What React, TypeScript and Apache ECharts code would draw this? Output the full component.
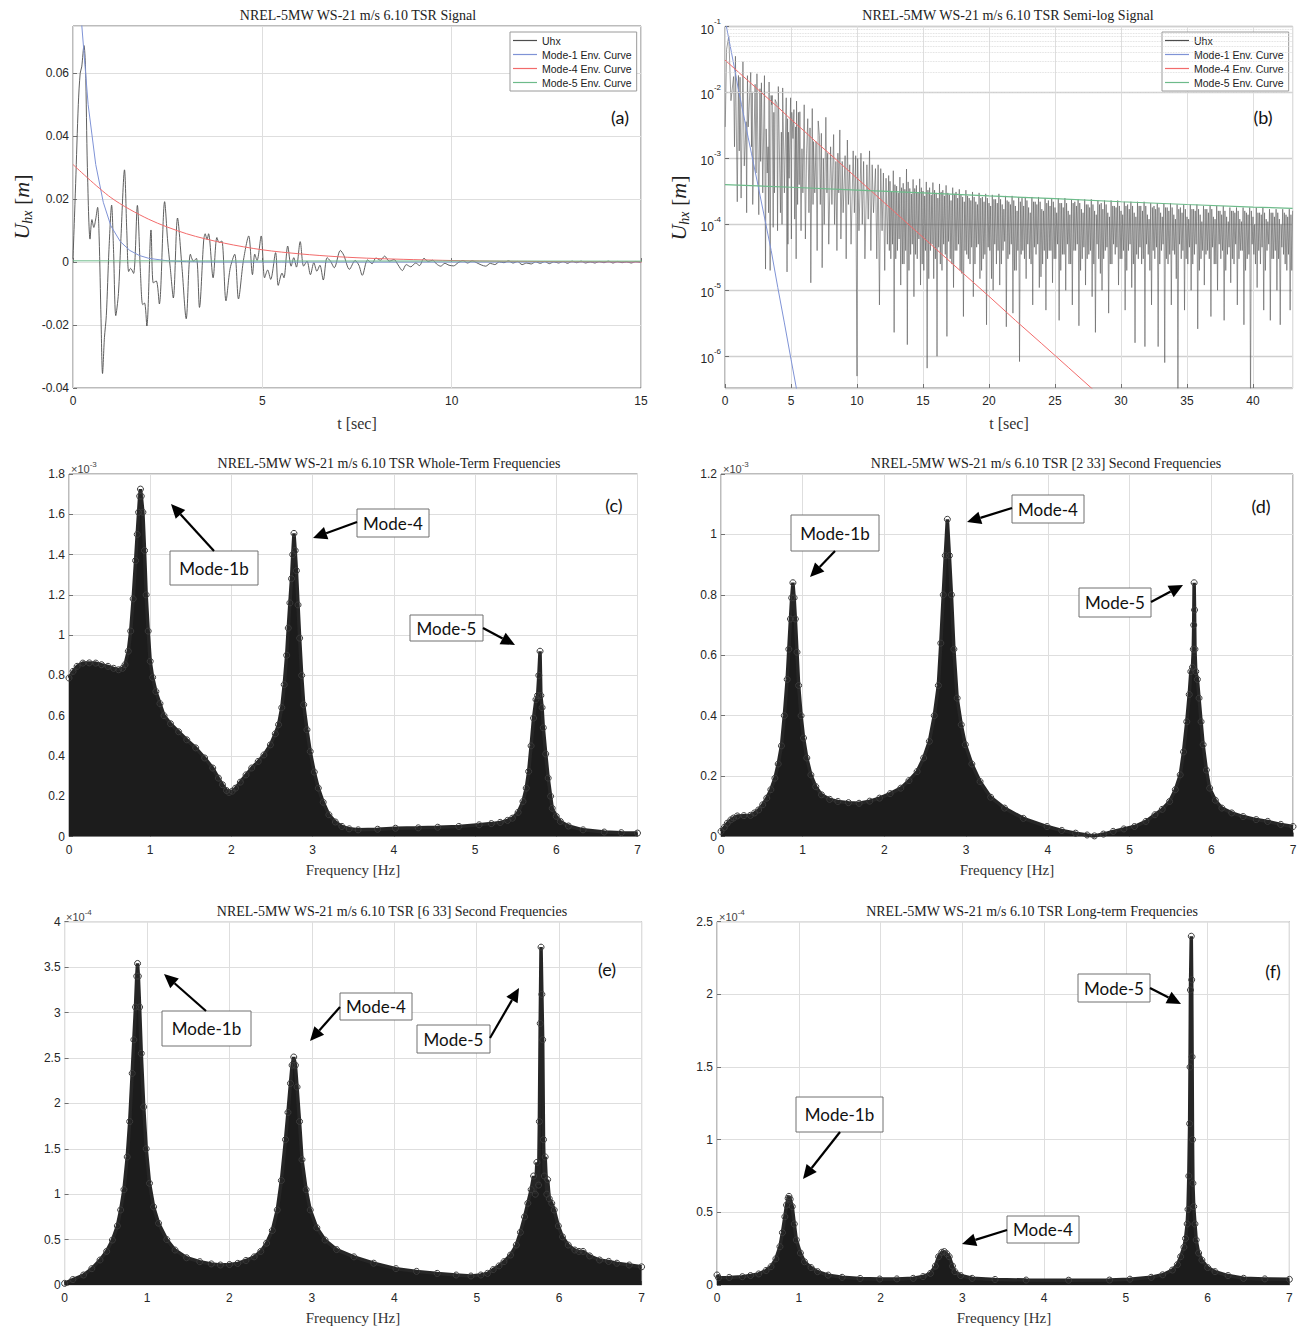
import React, { useEffect, useRef } from "react";
import * as echarts from "echarts";

// ---------------- DATA ----------------
// (a) Uhx time signal [t (s), Uhx (m)]
const uhxSignal: number[][] = [
  [0, 0.001], [0.07, 0.025], [0.14, 0.05], [0.19, 0.06], [0.23, 0.062], [0.29, 0.0688], [0.33, 0.062], [0.38, 0.03],
  [0.45, 0.0073], [0.5, 0.0135], [0.55, 0.011], [0.6, 0.0137], [0.65, 0.0174], [0.69, 0.008], [0.74, -0.018], [0.78, -0.0354],
  [0.83, -0.024], [0.88, -0.017], [0.95, 0.004], [1.02, 0.0181], [1.07, 0.004], [1.13, -0.017], [1.2, -0.01], [1.26, 0.006],
  [1.36, 0.0293], [1.42, 0.01], [1.47, -0.003], [1.52, -0.002], [1.6, -0.0036], [1.7, 0.018], [1.78, -0.003], [1.84, -0.0135],
  [1.89, -0.013], [1.95, -0.0203], [2.06, 0.0102], [2.12, -0.0066], [2.2, -0.006], [2.28, -0.0133], [2.42, 0.0192], [2.5, 0.0067],
  [2.57, -0.002], [2.65, -0.0114], [2.76, 0.014], [2.88, -0.002], [2.99, -0.018], [3.1, 0.0025], [3.18, 0.0003], [3.26, 0.0012],
  [3.34, -0.0144], [3.45, 0.0067], [3.49, 0.009], [3.54, 0.0072], [3.58, 0.009], [3.7, -0.005], [3.8, 0.0078], [3.86, 0.0062],
  [3.93, 0.0067], [4.04, -0.0123], [4.15, -0.002], [4.27, 0.0025], [4.37, -0.0117], [4.5, 0.0005], [4.64, 0.0083], [4.74, -0.004],
  [4.8, 0.0025], [4.86, 0.0005], [4.97, 0.0083], [5.06, -0.005], [5.14, -0.0025], [5.22, -0.0055], [5.35, 0.003], [5.42, -0.0074],
  [5.52, -0.0035], [5.57, -0.005], [5.67, 0.0051], [5.76, -0.0013], [5.83, 0.0014], [5.9, -0.0016], [6.0, 0.0065], [6.09, -0.0013],
  [6.18, 0.0003], [6.27, -0.004], [6.36, -0.0002], [6.44, -0.0029], [6.52, -0.001], [6.61, -0.0057], [6.71, 0.0014], [6.8, 0.0003],
  [6.9, -0.0018], [7.06, 0.0037], [7.15, 0.0022], [7.3, -0.0023], [7.45, 0.0005], [7.55, -0.001], [7.64, -0.0042], [7.78, 0.0007],
  [7.9, -0.0005], [8.0, 0.0013], [8.12, 0.0006], [8.23, 0.0019], [8.35, 0.0003], [8.48, 0.0008], [8.58, -0.0008], [8.7, -0.0027],
  [8.8, -0.0008], [8.92, -0.0015], [9.05, -0.0003], [9.15, -0.0011], [9.27, 0.0012], [9.38, 0.0002], [9.5, 0.0006], [9.6, -0.0006],
  [9.71, -0.0013], [9.82, -0.0004], [9.93, -0.001], [10.05, -0.0012], [10.17, -0.0002], [10.3, 0.0005], [10.42, -0.0003], [10.54, 0.0004],
  [10.66, -0.0002], [10.78, -0.0009], [10.9, -0.0013], [11.02, -0.0004], [11.14, -0.0008], [11.26, 0.0001], [11.38, -0.0002], [11.5, 0.0004],
  [11.62, -0.0003], [11.74, 0.0002], [11.86, -0.0008], [11.98, -0.0003], [12.1, -0.0006], [12.22, 0.0001], [12.34, -0.0004], [12.46, 0.0002],
  [12.58, -0.0005], [12.7, 0.0001], [12.82, -0.0003], [12.94, 0.0002], [13.06, -0.0004], [13.18, 0.0003], [13.3, -0.0002], [13.42, 0.0003],
  [13.54, -0.0003], [13.66, 0.0001], [13.78, -0.0003], [13.9, 0.0002], [14.02, -0.0002], [14.14, 0.0003], [14.26, -0.0003], [14.38, 0.0002],
  [14.5, -0.0002], [14.62, 0.0001], [14.74, -0.0003], [14.86, 0.0002], [15.0, -0.0001],
];

// (b) |Uhx| on semi-log axes, first 12.5 s [t, |Uhx|]
const uhxAbsEarly: number[][] = [
  [0.02, 3e-3], [0.12, 0.045], [0.29, 0.072], [0.45, 0.0075], [0.65, 0.0174], [0.72, 1.5e-3], [0.79, 0.0354], [0.93, 2.2e-4],
  [1.02, 0.0181], [1.08, 1.3e-3], [1.14, 0.017], [1.22, 2.5e-4], [1.36, 0.0293], [1.46, 7.7e-4], [1.6, 0.0036], [1.64, 1.5e-4],
  [1.7, 0.018], [1.76, 3e-3], [1.95, 0.0203], [2.01, 1.5e-3], [2.06, 0.0102], [2.1, 2e-4], [2.28, 0.0133], [2.35, 6e-4],
  [2.42, 0.0192], [2.56, 1.4e-4], [2.65, 0.0114], [2.7, 9e-4], [2.76, 0.014], [2.86, 3e-4], [2.99, 0.018], [3.07, 2.1e-5],
  [3.12, 0.0028], [3.2, 6e-4], [3.26, 0.0015], [3.3, 1.5e-4], [3.34, 0.0144], [3.42, 2e-5], [3.49, 0.009], [3.54, 0.0065],
  [3.58, 0.009], [3.65, 9e-5], [3.7, 0.005], [3.75, 3e-4], [3.8, 0.0078], [3.93, 0.0067], [3.98, 8e-5], [4.04, 0.0123],
  [4.2, 1.5e-4], [4.27, 0.0025], [4.32, 1e-4], [4.37, 0.0117], [4.5, 3e-4], [4.64, 0.0083], [4.7, 1.9e-5], [4.74, 0.004],
  [4.77, 5e-5], [4.8, 0.0025], [4.86, 5e-4], [4.97, 0.0083], [5.03, 6e-5], [5.06, 0.005], [5.15, 0.002], [5.22, 0.0055],
  [5.28, 1.2e-4], [5.35, 0.003], [5.39, 3e-5], [5.42, 0.0074], [5.5, 2e-4], [5.56, 0.005], [5.62, 4e-4], [5.67, 0.0051],
  [5.76, 8e-5], [5.83, 0.0014], [5.9, 3e-4], [6.0, 0.0065], [6.09, 6e-5], [6.18, 0.0012], [6.27, 0.004], [6.36, 1.5e-4],
  [6.44, 0.0029], [6.5, 1.3e-5], [6.61, 0.0057], [6.67, 2e-4], [6.71, 0.0018], [6.8, 3e-4], [6.9, 0.0018], [6.98, 4e-5],
  [7.06, 0.0037], [7.15, 0.0022], [7.22, 2e-4], [7.3, 0.0024], [7.36, 2.2e-5], [7.45, 0.001], [7.52, 1e-4], [7.64, 0.0042],
  [7.72, 3e-4], [7.78, 0.0012], [7.86, 5e-5], [8.0, 0.0015], [8.1, 2e-4], [8.23, 0.0023], [8.3, 1e-4], [8.4, 0.0009],
  [8.48, 4e-5], [8.55, 0.0012], [8.62, 3e-4], [8.7, 0.0027], [8.78, 6e-5], [8.88, 0.0009], [8.95, 1.5e-4], [9.1, 0.0011],
  [9.18, 3e-5], [9.27, 0.0019], [9.35, 2e-4], [9.45, 0.0008], [9.55, 5e-5], [9.71, 0.0013], [9.8, 1.5e-4], [9.9, 0.0011],
  [10.0, 5e-7], [10.05, 0.001], [10.15, 8e-5], [10.3, 0.0012], [10.4, 1e-4], [10.5, 0.0009], [10.6, 3e-5], [10.75, 0.0008],
  [10.85, 1.2e-4], [10.95, 0.0013], [11.05, 4e-5], [11.15, 0.0008], [11.25, 1.5e-4], [11.4, 0.0007], [11.5, 3e-5], [11.6, 0.0008],
  [11.7, 6e-6], [11.8, 0.0007], [11.9, 8e-5], [12.0, 0.0006], [12.1, 2e-5], [12.2, 0.0005], [12.3, 5e-5], [12.4, 0.00055],
  [12.45, 4e-5],
];

// (b) dense oscillation band after 12.5 s: two cycles (A then B) per step
const uhxBandStart = 12.5;
const uhxBandStep = 0.25;
const uhxBandTopsA: number[] = [
  4.5e-4, 6.5e-4, 3.8e-4, 5.2e-4, 4.2e-4, 6.9e-4, 3.5e-4, 4.8e-4, 3.9e-4, 4.9e-4, 3.2e-4, 4.4e-4,
  3.6e-4, 4.3e-4, 3.0e-4, 4.1e-4, 3.3e-4, 3.9e-4, 2.8e-4, 3.6e-4, 3.1e-4, 3.4e-4, 2.6e-4, 3.3e-4,
  2.5e-4, 3.1e-4, 2.2e-4, 3.0e-4, 2.6e-4, 2.9e-4, 2.1e-4, 2.8e-4, 2.4e-4, 2.9e-4, 2.0e-4, 2.7e-4,
  2.2e-4, 2.7e-4, 1.9e-4, 2.6e-4, 2.5e-4, 2.6e-4, 1.8e-4, 2.6e-4, 2.2e-4, 2.6e-4, 1.7e-4, 2.5e-4,
  2.3e-4, 2.5e-4, 1.8e-4, 2.5e-4, 2.1e-4, 2.5e-4, 1.6e-4, 2.4e-4, 2.2e-4, 2.4e-4, 1.7e-4, 2.4e-4,
  2.0e-4, 2.4e-4, 1.6e-4, 2.3e-4, 2.1e-4, 2.3e-4, 1.5e-4, 2.3e-4, 1.9e-4, 2.3e-4, 1.6e-4, 2.2e-4,
  2.0e-4, 2.2e-4, 1.5e-4, 2.2e-4, 1.9e-4, 2.2e-4, 1.4e-4, 2.1e-4, 1.9e-4, 2.1e-4, 1.5e-4, 2.1e-4,
  1.8e-4, 2.1e-4, 1.4e-4, 2.0e-4, 1.8e-4, 2.0e-4, 1.3e-4, 2.0e-4, 1.7e-4, 2.0e-4, 1.4e-4, 1.9e-4,
  1.7e-4, 1.9e-4, 1.3e-4, 1.9e-4, 1.6e-4, 1.9e-4, 1.3e-4, 1.8e-4, 1.6e-4, 1.8e-4, 1.2e-4, 1.8e-4,
  1.5e-4, 1.8e-4, 1.3e-4, 1.8e-4, 1.5e-4, 1.8e-4, 1.2e-4, 1.7e-4, 1.5e-4, 1.7e-4, 1.2e-4, 1.7e-4,
  1.4e-4, 1.7e-4, 1.6e-4,
];
const uhxBandDipsA: number[] = [
  3e-5, 2.3e-6, 4e-5, 1.2e-5, 2.5e-5, 1.5e-6, 3.5e-5, 8e-6, 3e-5, 1.2e-5, 2e-5, 6.6e-7,
  4e-5, 1.5e-5, 1e-6, 2.5e-5, 5e-5, 2e-6, 3e-5, 1.1e-5, 4e-5, 2e-5, 4e-6, 3.5e-5,
  2.5e-5, 8e-6, 4.5e-5, 1.5e-5, 3e-5, 3e-6, 4e-5, 1e-5, 2.5e-5, 1.2e-5, 4e-5, 2.8e-6,
  3.5e-5, 4.5e-6, 2e-5, 8.3e-7, 4e-5, 1.5e-5, 3e-5, 6e-6, 3.5e-5, 1.1e-5, 2.5e-5, 5e-6,
  4e-5, 1.3e-5, 3e-5, 3.5e-6, 3.5e-5, 1e-5, 2.5e-5, 6e-6, 4e-5, 2.9e-6, 3e-5, 1.2e-5,
  3.5e-5, 8e-6, 2.3e-6, 3e-5, 1e-5, 4e-5, 4.5e-6, 2.5e-5, 3.5e-5, 1.2e-5, 3e-5, 5e-6,
  4e-5, 1.1e-5, 1.6e-6, 3e-5, 2.5e-5, 1.4e-6, 3.5e-5, 6e-6, 3e-5, 1.4e-6, 4e-5, 8e-7,
  2.5e-5, 6e-6, 3.5e-5, 2e-7, 3e-5, 5e-6, 2.5e-5, 1e-5, 3.5e-5, 2.6e-6, 3e-5, 1.2e-5,
  4e-5, 4e-6, 2.5e-5, 1e-5, 3e-5, 3.5e-6, 3.5e-5, 1.3e-5, 2.5e-5, 6e-6, 4e-5, 3e-6,
  3e-5, 2e-7, 3.5e-5, 1.1e-5, 2.5e-5, 5e-6, 4e-5, 3.5e-6, 3e-5, 1e-5, 3e-6, 3.5e-5,
  2e-5, 5e-6,
];
const uhxBandTopsB: number[] = [
  3.2e-4, 4.0e-4, 3.0e-4, 3.6e-4, 3.4e-4, 4.4e-4, 2.9e-4, 3.5e-4, 3.0e-4, 3.6e-4, 2.7e-4, 3.3e-4,
  2.8e-4, 3.3e-4, 2.5e-4, 3.1e-4, 2.7e-4, 3.0e-4, 2.3e-4, 2.9e-4, 2.5e-4, 2.8e-4, 2.2e-4, 2.7e-4,
  2.3e-4, 2.6e-4, 2.0e-4, 2.5e-4, 2.2e-4, 2.5e-4, 1.9e-4, 2.4e-4, 2.1e-4, 2.4e-4, 1.7e-4, 2.3e-4,
  2.0e-4, 2.3e-4, 1.6e-4, 2.2e-4, 1.9e-4, 2.3e-4, 1.5e-4, 2.2e-4, 2.0e-4, 2.2e-4, 1.6e-4, 2.1e-4,
  1.9e-4, 2.2e-4, 1.5e-4, 2.1e-4, 1.8e-4, 2.1e-4, 1.4e-4, 2.1e-4, 1.9e-4, 2.1e-4, 1.5e-4, 2.0e-4,
  1.8e-4, 2.0e-4, 1.4e-4, 2.0e-4, 1.7e-4, 2.0e-4, 1.3e-4, 1.9e-4, 1.8e-4, 1.9e-4, 1.4e-4, 1.9e-4,
  1.7e-4, 1.9e-4, 1.3e-4, 1.9e-4, 1.6e-4, 1.9e-4, 1.2e-4, 1.8e-4, 1.7e-4, 1.8e-4, 1.3e-4, 1.8e-4,
  1.6e-4, 1.8e-4, 1.2e-4, 1.7e-4, 1.5e-4, 1.7e-4, 1.2e-4, 1.7e-4, 1.6e-4, 1.7e-4, 1.1e-4, 1.7e-4,
  1.5e-4, 1.7e-4, 1.2e-4, 1.6e-4, 1.4e-4, 1.6e-4, 1.1e-4, 1.6e-4, 1.5e-4, 1.6e-4, 1.1e-4, 1.6e-4,
  1.4e-4, 1.6e-4, 1.0e-4, 1.5e-4, 1.4e-4, 1.5e-4, 1.1e-4, 1.5e-4, 1.3e-4, 1.5e-4, 1.0e-4, 1.5e-4,
  1.3e-4, 1.4e-4,
];
const uhxBandDipsB: number[] = [
  5e-5, 3e-5, 6e-5, 2.5e-5, 4e-5, 2e-5, 5e-5, 3.5e-5, 6e-5, 2.5e-5, 4e-5, 1.5e-5,
  5e-5, 3e-5, 4.5e-5, 2e-5, 3.5e-5, 5.5e-5, 2.5e-5, 4e-5, 5e-5, 1.8e-5, 4e-5, 3e-5,
  4.5e-5, 2.5e-5, 5e-5, 2e-5, 3.5e-5, 4.5e-5, 1.5e-5, 5e-5, 4e-5, 2.5e-5, 5.5e-5, 3e-5,
  5e-5, 2e-5, 4e-5, 3.5e-5, 3e-5, 5e-5, 2.5e-5, 4.5e-5, 5e-5, 1.6e-5, 4e-5, 3e-5,
  4e-5, 3e-5, 5e-5, 2e-5, 3.5e-5, 5e-5, 2.5e-5, 4e-5, 5e-5, 2e-5, 4.5e-5, 3e-5,
  4e-5, 2.5e-5, 5e-5, 1.8e-5, 3e-5, 4.5e-5, 2.5e-5, 5e-5, 4.5e-5, 3e-5, 4e-5, 2e-5,
  5e-5, 2.5e-5, 3.5e-5, 4.5e-5, 3e-5, 5e-5, 2e-5, 4e-5, 4.5e-5, 2.5e-5, 5e-5, 3e-5,
  3.5e-5, 4e-5, 1.5e-5, 5e-5, 4e-5, 3e-5, 4.5e-5, 2.5e-5, 5e-5, 2e-5, 4e-5, 3.5e-5,
  3e-5, 4.5e-5, 2.5e-5, 5e-5, 4e-5, 2e-5, 4.5e-5, 3e-5, 5e-5, 3e-5, 4e-5, 2e-5,
  3.5e-5, 5e-5, 2.5e-5, 4e-5, 4.5e-5, 2e-5, 5e-5, 3e-5, 4e-5, 3e-5, 4.5e-5, 2.5e-5,
  3.5e-5, 2e-5,
];

const mode1Env: number[][] = [
  [0, 0.13], [0.2, 0.08], [0.4, 0.05], [0.6, 0.031], [0.8, 0.019], [1.0, 0.0115], [1.25, 0.0065], [1.5, 0.0037],
  [1.75, 0.0021], [2.0, 0.0012], [2.5, 3.9e-4], [3.0, 1.25e-4], [3.5, 4e-5], [4.0, 1.1e-5], [4.5, 3.2e-6], [5.0, 9e-7],
  [5.5, 2.6e-7], [6.0, 7e-8],
];
const mode1EnvTail: number[][] = [[15, 0]];
const mode4Env: number[][] = [
  [0, 0.031], [1, 0.0205], [2, 0.0136], [3, 0.009], [4, 0.006], [5, 0.0039], [6, 0.0026], [7, 0.0017], [8, 0.00114],
  [10, 5.0e-4], [12, 2.19e-4], [14, 9.6e-5], [16, 4.2e-5], [18, 1.84e-5], [20, 8.1e-6], [22, 3.5e-6], [24, 1.55e-6],
  [26, 6.8e-7], [28, 2.98e-7],
];
const mode5Env: number[][] = [
  [0, 4.0e-4], [5, 3.65e-4], [10, 3.3e-4], [15, 3.0e-4], [20, 2.7e-4], [25, 2.45e-4], [30, 2.2e-4], [35, 2.0e-4],
  [40, 1.83e-4], [43, 1.75e-4],
];

// (c) Whole-term spectrum [Hz, amplitude x1e-3]
const specWhole: number[][] = [
  [0, 0.787], [0.05, 0.82], [0.1, 0.845], [0.17, 0.861], [0.25, 0.862], [0.33, 0.861], [0.4, 0.853], [0.48, 0.845],
  [0.55, 0.835], [0.61, 0.828], [0.66, 0.835], [0.69, 0.853], [0.73, 0.92], [0.76, 1.02], [0.79, 1.18], [0.82, 1.37],
  [0.84, 1.5], [0.857, 1.61], [0.87, 1.69], [0.88, 1.725], [0.89, 1.69], [0.91, 1.61], [0.93, 1.42], [0.95, 1.2],
  [0.975, 1.02], [1.0, 0.87], [1.03, 0.79], [1.07, 0.72], [1.12, 0.66], [1.17, 0.6], [1.25, 0.56], [1.35, 0.52],
  [1.45, 0.48], [1.56, 0.44], [1.67, 0.39], [1.77, 0.34], [1.84, 0.29], [1.89, 0.257], [1.94, 0.228], [1.97, 0.219],
  [2.01, 0.225], [2.05, 0.24], [2.11, 0.27], [2.18, 0.306], [2.25, 0.34], [2.33, 0.373], [2.4, 0.405], [2.48, 0.455],
  [2.54, 0.51], [2.58, 0.555], [2.62, 0.64], [2.65, 0.754], [2.68, 0.9], [2.7, 1.035], [2.72, 1.16], [2.74, 1.28],
  [2.755, 1.4], [2.77, 1.505], [2.785, 1.42], [2.8, 1.32], [2.82, 1.15], [2.84, 0.985], [2.865, 0.8], [2.89, 0.654],
  [2.93, 0.53], [2.97, 0.422], [3.02, 0.32], [3.07, 0.24], [3.13, 0.17], [3.2, 0.108], [3.28, 0.072], [3.36, 0.05],
  [3.45, 0.038], [3.56, 0.033], [3.8, 0.036], [4.02, 0.041], [4.3, 0.043], [4.54, 0.046], [4.8, 0.05], [5.05, 0.058],
  [5.2, 0.064], [5.31, 0.07], [5.4, 0.08], [5.46, 0.091], [5.53, 0.12], [5.59, 0.174], [5.63, 0.24], [5.66, 0.323],
  [5.69, 0.45], [5.72, 0.588], [5.75, 0.68], [5.77, 0.7], [5.785, 0.8], [5.8, 0.92], [5.81, 0.7], [5.825, 0.64],
  [5.84, 0.54], [5.87, 0.41], [5.9, 0.29], [5.93, 0.2], [5.95, 0.14], [6.0, 0.1], [6.05, 0.075], [6.15, 0.052],
  [6.33, 0.033], [6.59, 0.022], [6.8, 0.019], [7.0, 0.017],
];

// (d) [2 33] s spectrum [Hz, amplitude x1e-3]
const spec2to33: number[][] = [
  [0, 0.017], [0.04, 0.03], [0.077, 0.044], [0.12, 0.055], [0.153, 0.061], [0.2, 0.068], [0.28, 0.069], [0.36, 0.07],
  [0.41, 0.078], [0.46, 0.088], [0.51, 0.105], [0.56, 0.127], [0.61, 0.155], [0.66, 0.193], [0.7, 0.24], [0.74, 0.3],
  [0.775, 0.4], [0.81, 0.52], [0.83, 0.62], [0.85, 0.72], [0.865, 0.79], [0.88, 0.84], [0.895, 0.79], [0.91, 0.72],
  [0.93, 0.61], [0.95, 0.5], [0.98, 0.4], [1.01, 0.326], [1.05, 0.26], [1.1, 0.204], [1.16, 0.165], [1.23, 0.138],
  [1.33, 0.123], [1.43, 0.116], [1.56, 0.112], [1.69, 0.11], [1.82, 0.117], [1.94, 0.127], [2.07, 0.142], [2.2, 0.16],
  [2.3, 0.185], [2.4, 0.215], [2.48, 0.26], [2.55, 0.315], [2.61, 0.4], [2.66, 0.5], [2.69, 0.64], [2.72, 0.8],
  [2.745, 0.93], [2.77, 1.05], [2.795, 0.93], [2.82, 0.8], [2.85, 0.62], [2.89, 0.458], [2.94, 0.37], [2.99, 0.304],
  [3.07, 0.24], [3.17, 0.182], [3.3, 0.13], [3.47, 0.094], [3.7, 0.06], [3.99, 0.033], [4.17, 0.02], [4.34, 0.011],
  [4.48, 0.005], [4.57, 0.002], [4.68, 0.008], [4.8, 0.017], [4.93, 0.025], [5.06, 0.033], [5.2, 0.05], [5.31, 0.072],
  [5.4, 0.09], [5.49, 0.116], [5.56, 0.155], [5.62, 0.204], [5.66, 0.28], [5.7, 0.38], [5.73, 0.47], [5.75, 0.546],
  [5.77, 0.56], [5.78, 0.62], [5.785, 0.7], [5.79, 0.84], [5.795, 0.75], [5.8, 0.62], [5.81, 0.546], [5.83, 0.52],
  [5.85, 0.458], [5.875, 0.38], [5.9, 0.304], [5.94, 0.22], [5.98, 0.16], [6.05, 0.12], [6.13, 0.094], [6.25, 0.078],
  [6.39, 0.066], [6.55, 0.056], [6.69, 0.05], [6.85, 0.04], [7.0, 0.033],
];

// (e) [6 33] s spectrum [Hz, amplitude x1e-4]
const spec6to33: number[][] = [
  [0, 0.018], [0.1, 0.06], [0.23, 0.11], [0.33, 0.18], [0.43, 0.275], [0.51, 0.37], [0.58, 0.495], [0.64, 0.65],
  [0.68, 0.826], [0.72, 1.05], [0.76, 1.41], [0.79, 1.8], [0.82, 2.33], [0.84, 2.7], [0.86, 3.06], [0.875, 3.4],
  [0.885, 3.54], [0.895, 3.4], [0.91, 3.06], [0.93, 2.55], [0.96, 1.96], [0.99, 1.5], [1.03, 1.12], [1.08, 0.86],
  [1.14, 0.68], [1.24, 0.5], [1.34, 0.385], [1.48, 0.3], [1.64, 0.257], [1.78, 0.232], [1.89, 0.22], [2.0, 0.225],
  [2.1, 0.238], [2.2, 0.27], [2.3, 0.31], [2.38, 0.37], [2.45, 0.46], [2.52, 0.6], [2.58, 0.826], [2.63, 1.15],
  [2.68, 1.6], [2.71, 1.9], [2.74, 2.22], [2.76, 2.42], [2.78, 2.51], [2.8, 2.42], [2.82, 2.18], [2.85, 1.8],
  [2.88, 1.38], [2.93, 1.05], [2.98, 0.826], [3.06, 0.63], [3.16, 0.495], [3.3, 0.39], [3.51, 0.31], [3.75, 0.24],
  [4.02, 0.18], [4.27, 0.15], [4.52, 0.128], [4.75, 0.11], [4.93, 0.099], [5.05, 0.11], [5.13, 0.128], [5.2, 0.17],
  [5.27, 0.21], [5.33, 0.257], [5.41, 0.33], [5.48, 0.44], [5.53, 0.58], [5.58, 0.75], [5.62, 0.9], [5.66, 1.05],
  [5.69, 1.2], [5.71, 1.0], [5.73, 1.35], [5.75, 1.1], [5.76, 1.8], [5.77, 2.88], [5.78, 3.72], [5.79, 3.2],
  [5.8, 2.7], [5.81, 1.6], [5.82, 1.2], [5.83, 1.41], [5.85, 1.0], [5.86, 1.16], [5.88, 0.95], [5.91, 0.9],
  [5.94, 0.826], [5.99, 0.65], [6.04, 0.53], [6.11, 0.44], [6.19, 0.385], [6.24, 0.37], [6.29, 0.37], [6.37, 0.32],
  [6.49, 0.275], [6.6, 0.26], [6.7, 0.24], [6.85, 0.22], [7.0, 0.2],
];

// (f) Long-term spectrum [Hz, amplitude x1e-4]
const specLong: number[][] = [
  [0, 0.069], [0.02, 0.05], [0.15, 0.052], [0.31, 0.057], [0.41, 0.065], [0.51, 0.076], [0.6, 0.1], [0.66, 0.126],
  [0.72, 0.18], [0.77, 0.264], [0.8, 0.36], [0.83, 0.47], [0.85, 0.55], [0.87, 0.596], [0.88, 0.61], [0.895, 0.59],
  [0.92, 0.54], [0.945, 0.42], [0.97, 0.31], [1.02, 0.22], [1.07, 0.16], [1.15, 0.12], [1.23, 0.092], [1.36, 0.068],
  [1.53, 0.053], [1.75, 0.045], [1.99, 0.041], [2.2, 0.042], [2.4, 0.046], [2.52, 0.058], [2.61, 0.08], [2.67, 0.13],
  [2.71, 0.195], [2.75, 0.225], [2.78, 0.23], [2.81, 0.215], [2.84, 0.195], [2.88, 0.13], [2.91, 0.092], [2.98, 0.065],
  [3.12, 0.046], [3.4, 0.038], [3.78, 0.034], [4.3, 0.033], [4.8, 0.034], [5.05, 0.04], [5.31, 0.053], [5.45, 0.07],
  [5.57, 0.103], [5.63, 0.14], [5.67, 0.195], [5.71, 0.26], [5.73, 0.32], [5.75, 0.42], [5.76, 0.52], [5.77, 0.75],
  [5.78, 1.11], [5.785, 1.5], [5.79, 2.03], [5.8, 2.4], [5.805, 2.1], [5.81, 1.57], [5.815, 1.0], [5.82, 0.7],
  [5.83, 0.54], [5.845, 0.42], [5.86, 0.31], [5.89, 0.22], [5.93, 0.172], [6.0, 0.12], [6.09, 0.092], [6.25, 0.065],
  [6.44, 0.046], [6.7, 0.042], [7.0, 0.039],
];

const legendNames = ["Uhx", "Mode-1 Env. Curve", "Mode-4 Env. Curve", "Mode-5 Env. Curve"];
const panelTitles = [
  "NREL-5MW WS-21 m/s 6.10 TSR Signal",
  "NREL-5MW WS-21 m/s 6.10 TSR Semi-log Signal",
  "NREL-5MW WS-21 m/s 6.10 TSR Whole-Term Frequencies",
  "NREL-5MW WS-21 m/s 6.10 TSR [2 33] Second Frequencies",
  "NREL-5MW WS-21 m/s 6.10 TSR [6 33] Second Frequencies",
  "NREL-5MW WS-21 m/s 6.10 TSR Long-term Frequencies",
];
const panelTags = ["(a)", "(b)", "(c)", "(d)", "(e)", "(f)"];
const specExponents = ["-3", "-3", "-4", "-4"];

// ---------------- STYLE / LAYOUT ----------------
const SANS = "'Liberation Sans', Arial, sans-serif";
const SERIF = "'Liberation Serif', 'Times New Roman', serif";
const CAL = "Lato, 'Open Sans', sans-serif";
const C_SIG = "#4d4d4d";
const C_M1 = "#7f93d6";
const C_M4 = "#f26b6b";
const C_M5 = "#6dbb8a";

const GRIDS = [
  { left: 73, top: 26, width: 568, height: 362 },
  { left: 725, top: 26.5, width: 567.6, height: 361.5 },
  { left: 69, top: 474, width: 568.5, height: 362.5 },
  { left: 721, top: 474, width: 572, height: 362.5 },
  { left: 64.6, top: 921.7, width: 577, height: 363.3 },
  { left: 717, top: 921.7, width: 572.4, height: 363.3 },
];
const TITLE_POS = [[358, 15], [1008, 15], [389, 463], [1046, 463], [392, 911], [1032, 911]];
const TAG_POS = [[620, 117], [1263, 117], [614, 505], [1261, 506], [607, 969], [1273, 971]];
const XNAME_POS = [[357, 423], [1009, 423], [353, 870], [1007, 870], [353, 1318], [1004, 1318]];
const EXP_POS = [[71, 467], [723, 467], [66, 915], [719, 915]];

function xAxis(gi: number, min: number, max: number, interval: number, showMax = true) {
  return {
    type: "value", gridIndex: gi, min, max, interval,
    axisLine: { show: false },
    axisTick: { show: true, inside: true, length: 4, lineStyle: { color: "#555", width: 0.8 } },
    axisLabel: { color: "#262626", fontSize: 12, fontFamily: SANS, margin: 7, showMaxLabel: showMax },
    splitLine: { show: true, lineStyle: { color: "#dedede", width: 1 } },
  };
}
function yAxis(gi: number, min: number, max: number, interval: number, showMax = true) {
  return {
    type: "value", gridIndex: gi, min, max, interval,
    axisLine: { show: false },
    axisTick: { show: true, inside: true, length: 4, lineStyle: { color: "#555", width: 0.8 } },
    axisLabel: { color: "#262626", fontSize: 12, fontFamily: SANS, margin: 4, showMaxLabel: showMax },
    splitLine: { show: true, lineStyle: { color: "#dedede", width: 1 } },
  };
}

function specSeries(i: number, data: number[][]) {
  return {
    type: "line", xAxisIndex: i, yAxisIndex: i, data, silent: true,
    symbol: "circle", symbolSize: 6, showAllSymbol: true,
    itemStyle: { color: "rgba(0,0,0,0)", borderColor: "#3a3a3a", borderWidth: 1 },
    lineStyle: { color: "#262626", width: 3.5 },
    areaStyle: { color: "#1c1c1c", opacity: 1 },
  };
}

function arrow(x1: number, y1: number, x2: number, y2: number) {
  const dx = x2 - x1, dy = y2 - y1, len = Math.hypot(dx, dy);
  const ux = dx / len, uy = dy / len, L = 14, W = 6.5;
  const bx = x2 - ux * L, by = y2 - uy * L;
  return [
    { type: "line", z: 100, shape: { x1, y1, x2: bx, y2: by }, style: { stroke: "#000", lineWidth: 2.2 } },
    { type: "polygon", z: 100, shape: { points: [[x2, y2], [bx - uy * W, by + ux * W], [bx + uy * W, by - ux * W]] }, style: { fill: "#000" } },
  ];
}
function callout(x: number, y: number, w: number, h: number, text: string) {
  return [
    { type: "rect", z: 100, shape: { x, y, width: w, height: h }, style: { fill: "#fff", stroke: "#707070", lineWidth: 1 } },
    { type: "text", z: 101, x: x + w / 2, y: y + h / 2, style: { text, font: `17px ${CAL}`, fill: "#111", align: "center", verticalAlign: "middle" } },
  ];
}

const CALLOUTS: any[] = [
  // (c)
  ...callout(170, 551, 88, 34, "Mode-1b"), ...arrow(214, 551, 171, 504),
  ...callout(357, 509, 72, 28, "Mode-4"), ...arrow(357, 522, 313, 538),
  ...callout(410, 615, 73, 26, "Mode-5"), ...arrow(483, 628, 515, 645),
  // (d)
  ...callout(791, 515, 88, 36, "Mode-1b"), ...arrow(835, 551, 810, 577),
  ...callout(1012, 495, 72, 28, "Mode-4"), ...arrow(1012, 508, 967, 522),
  ...callout(1079, 588, 72, 29, "Mode-5"), ...arrow(1151, 602, 1183, 585),
  // (e)
  ...callout(162, 1011, 89, 35, "Mode-1b"), ...arrow(206, 1011, 164, 974),
  ...callout(340, 993, 72, 27, "Mode-4"), ...arrow(340, 1007, 310, 1041),
  ...callout(417, 1025, 73, 28, "Mode-5"), ...arrow(490, 1038, 519, 988),
  // (f)
  ...callout(1078, 974, 72, 28, "Mode-5"), ...arrow(1150, 988, 1181, 1004),
  ...callout(796, 1097, 87, 35, "Mode-1b"), ...arrow(840, 1132, 803, 1179),
  ...callout(1007, 1216, 72, 27, "Mode-4"), ...arrow(1007, 1230, 962, 1244),
];

function buildOption() {
  const LOG_MIN = 3.3e-7, LOG_MAX = 0.1;
  const uhxLog: number[][] = uhxAbsEarly.slice();
  const q = uhxBandStep / 4;
  uhxBandTopsA.forEach((top, i) => {
    const t = uhxBandStart + i * uhxBandStep;
    uhxLog.push([t, top]);
    if (i < uhxBandDipsA.length) {
      uhxLog.push([t + q, uhxBandDipsA[i]]);
      uhxLog.push([t + 2 * q, uhxBandTopsB[i]]);
      uhxLog.push([t + 3 * q, uhxBandDipsB[i]]);
    }
  });

  // minor log grid lines (2..9 x 10^k)
  const minorLines: any[] = [];
  for (let k = -7; k <= -2; k++) {
    for (let m = 2; m <= 9; m++) {
      const v = m * Math.pow(10, k);
      if (v > LOG_MIN && v < LOG_MAX) minorLines.push({ yAxis: v });
    }
  }

  const lineBase = (name: string, color: string, xi: number, data: number[][], width = 0.9, extra: any = {}) => ({
    name, type: "line", xAxisIndex: xi, yAxisIndex: xi, data, symbol: "none", silent: true,
    color, lineStyle: { color, width }, ...extra,
  });

  const graphicEls: any[] = [];
  panelTitles.forEach((t, i) => {
    graphicEls.push({ type: "text", z: 100, x: TITLE_POS[i][0], y: TITLE_POS[i][1],
      style: { text: t, font: `14px ${SERIF}`, fill: "#222", align: "center", verticalAlign: "middle" } });
    graphicEls.push({ type: "text", z: 100, x: TAG_POS[i][0], y: TAG_POS[i][1],
      style: { text: panelTags[i], font: `18px ${CAL}`, fill: "#111", align: "center", verticalAlign: "middle" } });
    graphicEls.push({ type: "text", z: 100, x: XNAME_POS[i][0], y: XNAME_POS[i][1],
      style: { text: i < 2 ? "t [sec]" : "Frequency [Hz]", font: `${i < 2 ? 16 : 15}px ${SERIF}`, fill: "#333", align: "center", verticalAlign: "middle" } });
  });
  specExponents.forEach((e, i) => {
    graphicEls.push({ type: "text", z: 100, x: EXP_POS[i][0], y: EXP_POS[i][1],
      style: { text: `{a|\u00d710}{s|${e}}`, align: "left", verticalAlign: "middle",
        rich: { a: { fontSize: 11, fontFamily: SANS, fill: "#444", lineHeight: 14, verticalAlign: "bottom" },
                s: { fontSize: 8, fontFamily: SANS, fill: "#444", lineHeight: 9, verticalAlign: "top" } } } });
  });
  [[21, 207], [678, 208]].forEach(([x, y]) => {
    graphicEls.push({ type: "text", z: 100, x, y, rotation: Math.PI / 2,
      style: { text: "{i|U}{sub|hx}{n| [}{i|m}{n|]}", align: "center", verticalAlign: "middle",
        rich: {
          i: { fontSize: 22, fontStyle: "italic", fontFamily: SERIF, fill: "#222", lineHeight: 26, verticalAlign: "middle" },
          sub: { fontSize: 14, fontStyle: "italic", fontFamily: SERIF, fill: "#222", lineHeight: 14, verticalAlign: "bottom" },
          n: { fontSize: 22, fontFamily: SERIF, fill: "#222", lineHeight: 26, verticalAlign: "middle" },
        } } });
  });
  graphicEls.push(...CALLOUTS);

  const legendCfg = (left: number) => ({
    left, top: 32, orient: "vertical", icon: "rect", itemWidth: 24, itemHeight: 1.2, itemGap: 3,
    padding: [3, 5, 3, 3], backgroundColor: "#fff", borderColor: "#9a9a9a", borderWidth: 1,
    selectedMode: false, textStyle: { fontSize: 10.5, fontFamily: SANS, color: "#222", lineHeight: 11 }, data: legendNames,
  });

  return {
    animation: false,
    backgroundColor: "#fff",
    grid: GRIDS.map((g) => ({ ...g, show: true, borderColor: "#555", borderWidth: 0.8, backgroundColor: "#fff", containLabel: false, outerBoundsMode: "none" })),
    legend: [legendCfg(510), legendCfg(1162)],
    xAxis: [
      xAxis(0, 0, 15, 5),
      xAxis(1, 0, 43, 5, false),
      xAxis(2, 0, 7, 1), xAxis(3, 0, 7, 1), xAxis(4, 0, 7, 1), xAxis(5, 0, 7, 1),
    ],
    yAxis: [
      yAxis(0, -0.04, 0.075, 0.02, false),
      {
        type: "log", gridIndex: 1, min: LOG_MIN, max: LOG_MAX, logBase: 10,
        axisLine: { show: false },
        axisTick: { show: true, inside: true, length: 4, lineStyle: { color: "#555", width: 0.8 } },
        axisLabel: {
          showMinLabel: false, margin: 4,
          formatter: (v: number) => `{b|10}{s|${Math.round(Math.log10(v))}}`,
          rich: {
            b: { fontSize: 12, fontFamily: SANS, color: "#262626", lineHeight: 18, verticalAlign: "bottom" },
            s: { fontSize: 8, fontFamily: SANS, color: "#262626", lineHeight: 10, verticalAlign: "top" },
          },
        },
        splitLine: { show: true, lineStyle: { color: "#cfcfcf", width: 1.4 } },
      },
      yAxis(2, 0, 1.8, 0.2), yAxis(3, 0, 1.2, 0.2), yAxis(4, 0, 4, 0.5), yAxis(5, 0, 2.5, 0.5),
    ],
    series: [
      // (a)
      lineBase("Uhx", C_SIG, 0, uhxSignal, 0.9, { smooth: 0.3 }),
      lineBase("Mode-1 Env. Curve", C_M1, 0, mode1Env.concat(mode1EnvTail), 1),
      lineBase("Mode-4 Env. Curve", C_M4, 0, mode4Env, 1, { smooth: 0.3 }),
      lineBase("Mode-5 Env. Curve", C_M5, 0, mode5Env, 1),
      // (b)
      {
        type: "line", xAxisIndex: 1, yAxisIndex: 1, data: [[0, 1e-3]], symbol: "none", silent: true, z: 1,
        lineStyle: { opacity: 0 },
        markLine: { silent: true, symbol: "none", label: { show: false }, animation: false,
          lineStyle: { color: "#d6d6d6", type: "dotted", width: 0.8 }, data: minorLines },
      },
      lineBase("Uhx", "#5a5a5a", 1, uhxLog, 0.6),
      lineBase("Mode-1 Env. Curve", C_M1, 1, mode1Env, 1),
      lineBase("Mode-4 Env. Curve", C_M4, 1, mode4Env, 1),
      lineBase("Mode-5 Env. Curve", C_M5, 1, mode5Env, 1.2),
      // (c)-(f)
      specSeries(2, specWhole),
      specSeries(3, spec2to33),
      specSeries(4, spec6to33),
      specSeries(5, specLong),
    ],
    graphic: { elements: graphicEls },
  };
}

export default function App() {
  const ref = useRef<HTMLDivElement>(null);
  useEffect(() => {
    if (!ref.current) return;
    const chart = echarts.init(ref.current, null, { renderer: "svg" });
    chart.setOption(buildOption() as any);
    return () => chart.dispose();
  }, []);
  return <div ref={ref} style={{ position: "absolute", left: 0, top: 0, width: 1302, height: 1335, background: "#fff" }} />;
}
